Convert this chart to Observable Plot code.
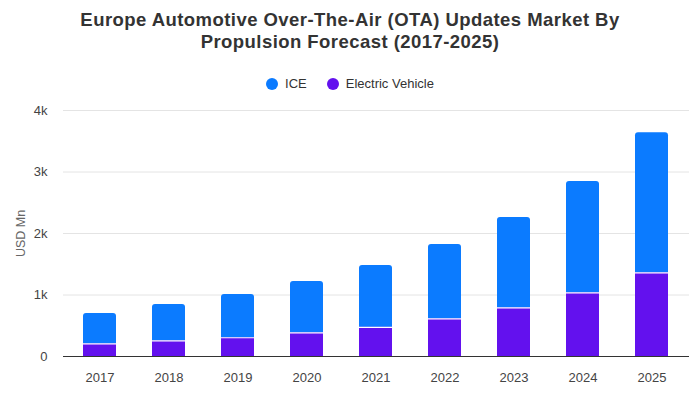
<!DOCTYPE html>
<html>
<head>
<meta charset="utf-8">
<script src="https://cdn.jsdelivr.net/npm/d3@7"></script>
<script src="https://cdn.jsdelivr.net/npm/@observablehq/plot@0.6"></script>
<style>
  body { margin: 0; background: #fff; font-family: "Liberation Sans", Arial, sans-serif; }
  #wrap { width: 700px; height: 400px; position: relative; overflow: hidden; }
  #title { position: absolute; top: 9px; left: 0; width: 700px; text-align: center; font-weight: bold; font-size: 18.5px; letter-spacing: 0.45px; line-height: 22px; color: #333; }
  #legend { position: absolute; top: 76px; left: 0; width: 700px; text-align: center; font-size: 13px; color: #333; }
  #legend span.item { display: inline-block; margin: 0 10px; }
  #legend span.dot { display: inline-block; width: 12px; height: 12px; border-radius: 50%; vertical-align: -2px; margin-right: 7px; }
  #chart { position: absolute; top: 100px; left: 0; }
</style>
</head>
<body>
<div id="wrap">
  <div id="title">Europe Automotive Over-The-Air (OTA) Updates Market By<br>Propulsion Forecast (2017-2025)</div>
  <div id="legend"></div>
  <div id="chart"></div>
</div>
<script>
const years = ["2017","2018","2019","2020","2021","2022","2023","2024","2025"];
const ice = [495, 590, 705, 835, 1005, 1208, 1470, 1810, 2280];
const ev  = [205, 255, 305, 385, 475, 612, 790, 1035, 1360];
const seriesNames = ["ICE", "Electric Vehicle"];
const seriesColors = ["#0b7bff", "#6311ee"];
const yTicks = [0, 1000, 2000, 3000, 4000];
const yTickLabels = ["0", "1k", "2k", "3k", "4k"];

const legend = document.getElementById("legend");
seriesNames.forEach((n, i) => {
  const s = document.createElement("span");
  s.className = "item";
  s.innerHTML = `<span class="dot" style="background:${seriesColors[i]}"></span>${n}`;
  legend.appendChild(s);
});

const rows = years.map((y, i) => ({year: y, ice: ice[i], ev: ev[i], total: ice[i] + ev[i]}));

const chart = Plot.plot({
  width: 700,
  height: 300,
  marginTop: 10,
  marginBottom: 44,
  marginLeft: 63,
  marginRight: 11,
  style: {fontFamily: "Liberation Sans, Arial, sans-serif", fontSize: "13px", color: "#444", background: "transparent"},
  x: {domain: years, paddingInner: 0.52, paddingOuter: 0.26, label: null, tickSize: 0},
  y: {domain: [0, 4000], label: null, tickSize: 0},
  marks: [
    Plot.gridY(yTicks.filter(d => d > 0), {stroke: "#e4e4e4", strokeOpacity: 1, strokeWidth: 1}),
    Plot.barY(rows, {x: "year", y1: 0, y2: "total", fill: seriesColors[0], rx: 3}),
    Plot.barY(rows, {x: "year", y1: 0, y2: "ev", fill: seriesColors[1]}),
    Plot.tickY(rows, {x: "year", y: "ev", stroke: "#fff", strokeWidth: 1.2}),
    Plot.ruleY([0], {stroke: "#333", strokeWidth: 1.2}),
    Plot.axisX({tickSize: 0, tickPadding: 16, label: null, fontSize: 13}),
    Plot.axisY({ticks: yTicks, tickFormat: (d) => yTickLabels[yTicks.indexOf(d)], tickSize: 0, tickPadding: 16, label: null, fontSize: 13}),
    Plot.text(["USD Mn"], {frameAnchor: "left", textAnchor: "middle", dx: -43, rotate: -90, fill: "#666", fontSize: 12.5})
  ]
});
document.getElementById("chart").appendChild(chart);
</script>
</body>
</html>
